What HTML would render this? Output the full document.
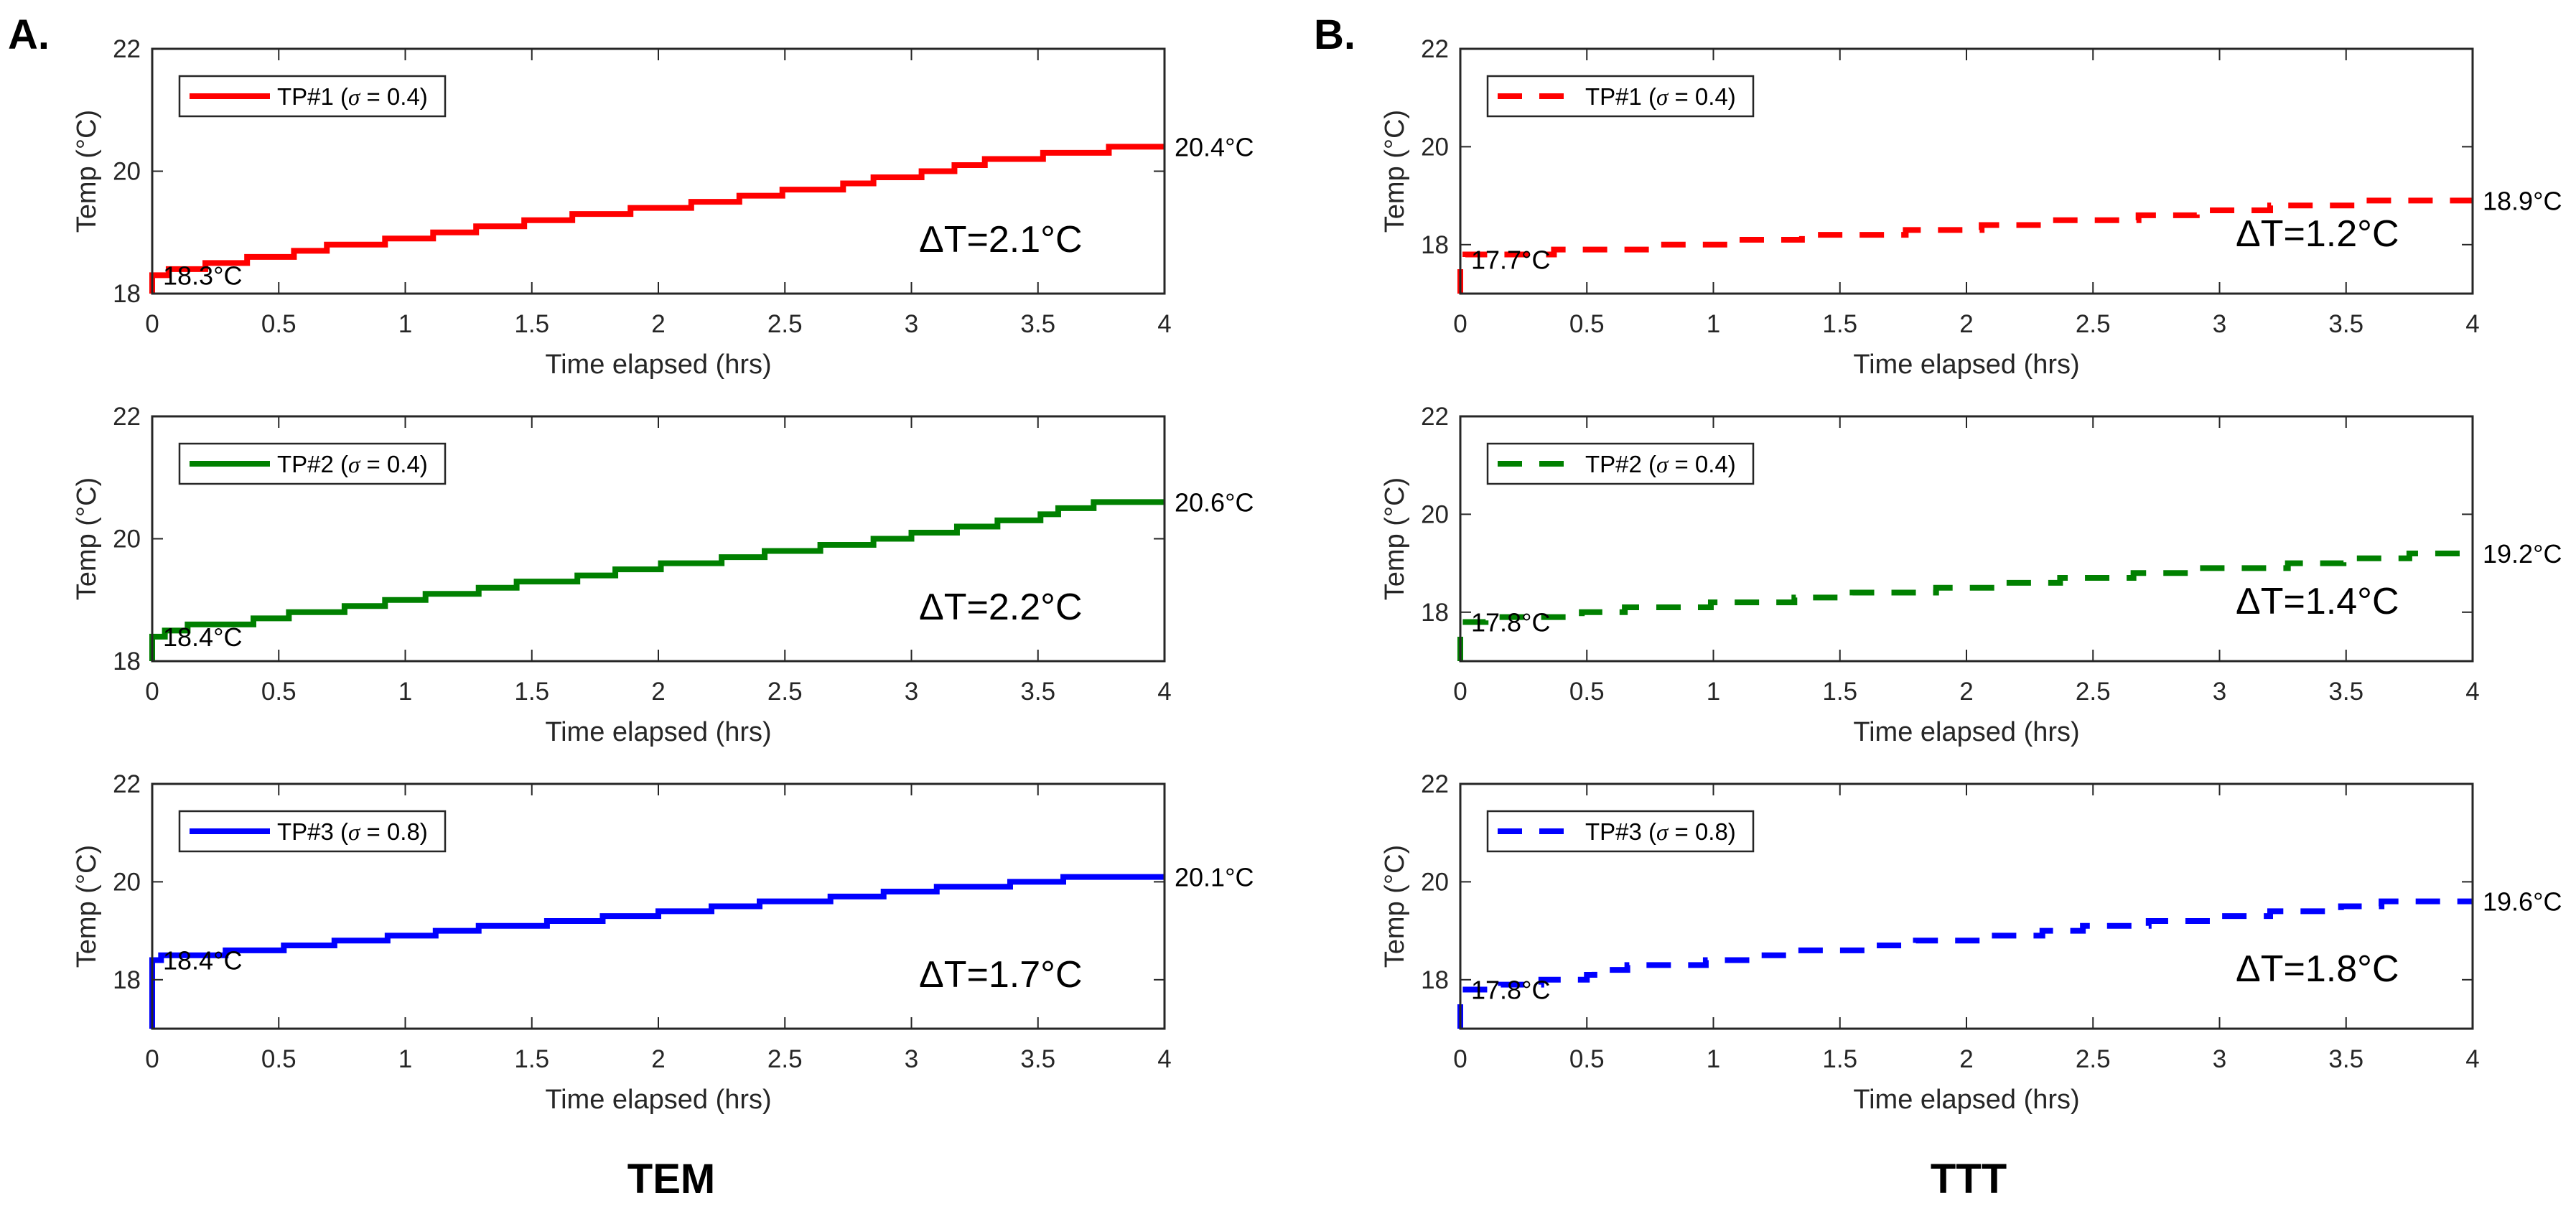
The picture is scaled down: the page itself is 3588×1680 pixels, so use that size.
<!DOCTYPE html>
<html><head><meta charset="utf-8"><style>
html,body{margin:0;padding:0;background:#fff;}
svg{display:block;font-family:"Liberation Sans",Arial,sans-serif;}
</style></head><body>
<svg id="fig" width="3588" height="1680" viewBox="0 0 3588 1680" xmlns="http://www.w3.org/2000/svg">
<rect width="3588" height="1680" fill="#fff"/>
<text x="11" y="68" font-size="58" font-weight="bold">A.</text>
<text x="1830" y="68" font-size="58" font-weight="bold">B.</text>
<text x="935" y="1662" font-size="58" font-weight="bold" text-anchor="middle">TEM</text>
<text x="2742" y="1662" font-size="58" font-weight="bold" text-anchor="middle">TTT</text>
</svg>
<script>
// ---- data ----
const xTicks = [0, 0.5, 1, 1.5, 2, 2.5, 3, 3.5, 4];
const xTickLabels = ["0", "0.5", "1", "1.5", "2", "2.5", "3", "3.5", "4"];
const yTicks = [18, 20, 22];
const yTickLabels = ["18", "20", "22"];

const temL1Times = [0,0.065,0.21,0.375,0.56,0.69,0.92,1.11,1.28,1.47,1.66,1.89,2.13,2.32,2.49,2.73,2.85,3.04,3.17,3.29,3.52,3.78];
const temL1Temps = [18.3,18.4,18.5,18.6,18.7,18.8,18.9,19.0,19.1,19.2,19.3,19.4,19.5,19.6,19.7,19.8,19.9,20.0,20.1,20.2,20.3,20.4];
const temL2Times = [0,0.05,0.14,0.40,0.54,0.76,0.92,1.08,1.29,1.44,1.68,1.83,2.01,2.25,2.42,2.64,2.85,3.0,3.18,3.34,3.51,3.58,3.72];
const temL2Temps = [18.4,18.5,18.6,18.7,18.8,18.9,19.0,19.1,19.2,19.3,19.4,19.5,19.6,19.7,19.8,19.9,20.0,20.1,20.2,20.3,20.4,20.5,20.6];
const temL3Times = [0,0.035,0.29,0.52,0.72,0.93,1.12,1.29,1.56,1.78,2.0,2.21,2.40,2.68,2.89,3.10,3.39,3.60];
const temL3Temps = [18.4,18.5,18.6,18.7,18.8,18.9,19.0,19.1,19.2,19.3,19.4,19.5,19.6,19.7,19.8,19.9,20.0,20.1];
const tttR1Times = [0,0.02,0.37,0.78,1.08,1.35,1.76,2.06,2.30,2.68,2.91,3.2,3.54];
const tttR1Temps = [17.7,17.8,17.9,18.0,18.1,18.2,18.3,18.4,18.5,18.6,18.7,18.8,18.9];
const tttR2Times = [0,0.1,0.48,0.65,0.99,1.32,1.55,1.88,2.14,2.37,2.66,2.90,3.27,3.49,3.75];
const tttR2Temps = [17.8,17.9,18.0,18.1,18.2,18.3,18.4,18.5,18.6,18.7,18.8,18.9,19.0,19.1,19.2];
const tttR3Times = [0,0.16,0.32,0.50,0.53,0.66,0.97,1.15,1.31,1.64,1.80,2.07,2.30,2.46,2.72,2.98,3.20,3.48,3.64];
const tttR3Temps = [17.8,17.9,18.0,18.1,18.2,18.3,18.4,18.5,18.6,18.7,18.8,18.9,19.0,19.1,19.2,19.3,19.4,19.5,19.6];

const startLabels = ["18.3°C","18.4°C","18.4°C","17.7°C","17.8°C","17.8°C"];
const endLabels = ["20.4°C","20.6°C","20.1°C","18.9°C","19.2°C","19.6°C"];
const deltaLabels = ["ΔT=2.1°C","ΔT=2.2°C","ΔT=1.7°C","ΔT=1.2°C","ΔT=1.4°C","ΔT=1.8°C"];
const legendLabels = ["TP#1","TP#2","TP#3","TP#1","TP#2","TP#3"];
const legendSigmas = ["0.4","0.4","0.8","0.4","0.4","0.8"];
const yMins = [18,18,17,17,17,17];

// ---- layout ----
const NS = "http://www.w3.org/2000/svg";
const svg = document.getElementById("fig");
const panels = [
  {x:212, y:68, t:temL1Times, v:temL1Temps, c:"#ff0000", dash:false, name:"tem-tp1"},
  {x:212, y:580, t:temL2Times, v:temL2Temps, c:"#008000", dash:false, name:"tem-tp2"},
  {x:212, y:1092, t:temL3Times, v:temL3Temps, c:"#0000ff", dash:false, name:"tem-tp3"},
  {x:2034, y:68, t:tttR1Times, v:tttR1Temps, c:"#ff0000", dash:true, name:"ttt-tp1"},
  {x:2034, y:580, t:tttR2Times, v:tttR2Temps, c:"#008000", dash:true, name:"ttt-tp2"},
  {x:2034, y:1092, t:tttR3Times, v:tttR3Temps, c:"#0000ff", dash:true, name:"ttt-tp3"}
];
const W = 1410, H = 341;
function mk(tag, attrs, parent, text) {
  const e = document.createElementNS(NS, tag);
  for (const k in attrs) e.setAttribute(k, attrs[k]);
  if (text !== undefined) e.textContent = text;
  parent.appendChild(e);
  return e;
}
panels.forEach((p, i) => {
  const g = mk("g", {}, svg);
  
  
  const ymin = yMins[i], ymax = 22;
  const sx = t => p.x + t / 4 * W;
  const sy = v => p.y + H - (v - ymin) / (ymax - ymin) * H;
  let d = "M" + sx(0) + "," + sy(ymin) + " V" + sy(p.v[0]);
  for (let k = 1; k < p.t.length; k++) d += " H" + sx(p.t[k]) + " V" + sy(p.v[k]);
  d += " H" + sx(4);
  const line = mk("path", {d:d, fill:"none", stroke:p.c, "stroke-width":8, "stroke-linejoin":"miter"}, g);
  if (p.dash) line.setAttribute("stroke-dasharray", "34 24");
  
  
  const box = mk("rect", {x:p.x, y:p.y, width:W, height:H, fill:"none", stroke:"#262626", "stroke-width":3}, g);
  
  
  xTicks.forEach((t, k) => {
    const X = sx(t);
    mk("line", {x1:X, x2:X, y1:p.y, y2:p.y+16, stroke:"#262626", "stroke-width":2}, g);
    mk("line", {x1:X, x2:X, y1:p.y+H, y2:p.y+H-16, stroke:"#262626", "stroke-width":2}, g);
    const tl = mk("text", {x:X, y:p.y+H+54, "font-size":35, "text-anchor":"middle", fill:"#262626"}, g, xTickLabels[k]);
    
    
  });
  yTicks.forEach((v, k) => {
    const Y = sy(v);
    mk("line", {x1:p.x, x2:p.x+15, y1:Y, y2:Y, stroke:"#262626", "stroke-width":2}, g);
    mk("line", {x1:p.x+W, x2:p.x+W-15, y1:Y, y2:Y, stroke:"#262626", "stroke-width":2}, g);
    const tl = mk("text", {x:p.x-16, y:Y+12, "font-size":35, "text-anchor":"end", fill:"#262626"}, g, yTickLabels[k]);
    
    
  });
  const xl = mk("text", {x:p.x+W/2, y:p.y+H+111, "font-size":38, "text-anchor":"middle", fill:"#262626"}, g, "Time elapsed (hrs)");
  
  
  const cy = p.y + H/2, cx = p.x - 92;
  const yl = mk("text", {x:cx, y:cy, "font-size":38, "text-anchor":"middle", fill:"#262626", transform:"rotate(-90 "+cx+" "+(cy)+") translate(0 13)"}, g, "Temp (°C)");
  
  
  const lg = mk("g", {}, g);
  
  
  mk("rect", {x:p.x+38, y:p.y+38, width:370, height:56, fill:"#fff", stroke:"#262626", "stroke-width":2.5}, lg);
  const ly = p.y + 66;
  const ll = mk("line", {x1:p.x+52, x2:p.x+164, y1:ly, y2:ly, stroke:p.c, "stroke-width":8}, lg);
  if (p.dash) ll.setAttribute("stroke-dasharray", "34 24");
  const lt = mk("text", {x:p.x+174, y:ly+12, "font-size":33, fill:"#000"}, lg);
  mk("tspan", {}, lt, legendLabels[i] + " (");
  mk("tspan", {"font-style":"italic", "font-family":"Liberation Serif, serif"}, lt, "σ");
  mk("tspan", {}, lt, " = " + legendSigmas[i] + ")");
  const sl = mk("text", {x:p.x+15, y:sy(p.v[0])+13, "font-size":36, fill:"#000"}, g, startLabels[i]);
  
  
  const el = mk("text", {x:p.x+W+14, y:sy(p.v[p.v.length-1])+13, "font-size":36, fill:"#000"}, g, endLabels[i]);
  
  
  const dl = mk("text", {x:p.x+(i<3?1068:1080), y:p.y+(i<3?283:275), "font-size":52, fill:"#000"}, g, deltaLabels[i]);
  
  
});
</script>
</body></html>
